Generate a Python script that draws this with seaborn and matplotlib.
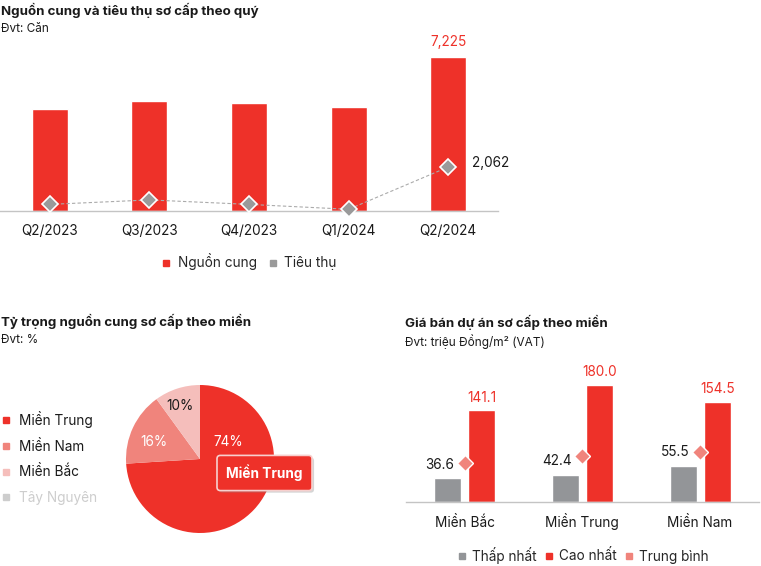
import matplotlib
matplotlib.use("Agg")
import matplotlib.pyplot as plt
import matplotlib.patheffects as pe
from matplotlib.lines import Line2D
import seaborn as sns
import pandas as pd

# ---------------- data ----------------
quarters = ["Q2/2023", "Q3/2023", "Q4/2023", "Q1/2024", "Q2/2024"]
nguon_cung = [4790, 5160, 5070, 4880, 7225]
tieu_thu = [310, 520, 310, 80, 2062]

regions_pie = ["Miền Trung", "Miền Nam", "Miền Bắc", "Tây Nguyên"]
shares = [74, 16, 10, 0]

regions_price = ["Miền Bắc", "Miền Trung", "Miền Nam"]
thap_nhat = [36.6, 42.4, 55.5]
cao_nhat = [141.1, 180.0, 154.5]
trung_binh = [60.0, 71.5, 77.0]

RED = "#EE3129"
GRAY_BAR = "#939598"
GRAY_DIAMOND = "#9A9A9A"
SALMON = "#F0847C"
PINK = "#F5BEBB"
LIGHT = "#CDCDCD"
AXIS = "#C4C4C4"
TXT = "#1A1A1A"
FS = 9.8

sns.set_theme(style="white")
plt.rcParams["font.family"] = ["Inter", "DejaVu Sans"]

W, H = 761, 566
fig = plt.figure(figsize=(W / 100, H / 100), dpi=100)
fig.patch.set_facecolor("white")


def add_ax(x0, y0, x1, y1):
    return fig.add_axes([x0 / W, 1 - y1 / H, (x1 - x0) / W, (y1 - y0) / H])


def ftext(x, y, s, **kw):
    return fig.text(x / W, 1 - y / H, s, **kw)


def style_cat_axis(ax, n):
    for sp in ["top", "right", "left"]:
        ax.spines[sp].set_visible(False)
    ax.spines["bottom"].set_color(AXIS)
    ax.spines["bottom"].set_linewidth(1.0)
    ax.set_xlim(-0.5, n - 0.5)
    ax.set_xticks(range(n))
    ax.set_xticks([i - 0.5 for i in range(n + 1)], minor=True)
    ax.tick_params(axis="x", which="major", length=0, pad=17.5, labelsize=FS, labelcolor=TXT)
    ax.tick_params(axis="x", which="minor", length=4, width=1, color=AXIS, direction="out")
    for lab in ax.get_xticklabels():
        lab.set_va("baseline")
    ax.set_yticks([])
    ax.set_xlabel("")
    ax.set_ylabel("")
    ax.patch.set_alpha(0)


# ---------------- top chart ----------------
ftext(1, 10, "Nguồn cung và tiêu thụ sơ cấp theo quý", fontsize=9.6, fontweight="bold",
      color=TXT, va="center")
ftext(1, 29, "Đvt: Căn", fontsize=8.5, color=TXT, va="center")

px_per_unit = 154 / 7225
ymax1 = 8000
ax1 = add_ax(0, 211 - ymax1 * px_per_unit, 498, 211)
df1 = pd.DataFrame({"q": quarters, "v": nguon_cung})
sns.barplot(data=df1, x="q", y="v", color=RED, width=0.36, saturation=1, ax=ax1)
ax1.plot(range(len(quarters)), tieu_thu, ls=(0, (3, 2)), lw=0.8, color="#ABABAB",
         marker="D", markersize=8.5, markerfacecolor=GRAY_DIAMOND, markeredgecolor="white",
         markeredgewidth=1.2, zorder=5, clip_on=False)
ax1.set_ylim(0, ymax1)
style_cat_axis(ax1, len(quarters))
ax1.annotate(f"{nguon_cung[-1]:,}", xy=(len(quarters) - 1, nguon_cung[-1]), xytext=(0, 11),
             textcoords="offset points", ha="center", va="center", fontsize=FS, color=RED)
ax1.annotate(f"{tieu_thu[-1]:,}", xy=(len(quarters) - 1, tieu_thu[-1]), xytext=(17, 3),
             textcoords="offset points", ha="left", va="center", fontsize=FS, color=TXT)

h1 = [Line2D([], [], marker="s", ls="", color=RED, markersize=5),
      Line2D([], [], marker="s", ls="", color=GRAY_DIAMOND, markersize=5)]
fig.legend(h1, ["Nguồn cung", "Tiêu thụ"], loc="center", bbox_to_anchor=(249 / W, 1 - 262 / H),
           ncol=2, frameon=False, fontsize=FS, handlelength=0.7, handletextpad=0.5,
           columnspacing=0.8, borderpad=0, borderaxespad=0)

# ---------------- pie chart ----------------
ftext(1, 321, "Tỷ trọng nguồn cung sơ cấp theo miền", fontsize=9.6, fontweight="bold",
      color=TXT, va="center")
ftext(1, 340, "Đvt: %", fontsize=8.5, color=TXT, va="center")

pie_colors = [RED, SALMON, PINK, LIGHT]
ax2 = add_ax(126, 385, 274, 533)
vals = [s for s in shares if s > 0]
cols = [c for s, c in zip(shares, pie_colors) if s > 0]
ax2.pie(vals, colors=cols, startangle=90, counterclock=False, radius=1,
        wedgeprops=dict(linewidth=0))
ax2.set_xlim(-1, 1)
ax2.set_ylim(-1, 1)
ax2.set_aspect("equal")
ax2.axis("off")
label_pos = [(0.38, 0.23), (-0.62, 0.23), (-0.27, 0.72)]
label_col = ["white", "white", TXT]
for s, (lx, ly), lc in zip(vals, label_pos, label_col):
    ax2.text(lx, ly, f"{s}%", ha="center", va="center", fontsize=FS, color=lc)

h2 = [Line2D([], [], marker="s", ls="", color=c, markersize=5) for c in pie_colors]
leg2 = fig.legend(h2, regions_pie, loc="upper left", bbox_to_anchor=(0.002, 1 - 411 / H),
                  frameon=False, fontsize=FS, handlelength=0.7, handletextpad=0.6,
                  labelspacing=0.86, borderpad=0, borderaxespad=0)
for t, s in zip(leg2.get_texts(), shares):
    t.set_color(TXT if s > 0 else LIGHT)

# tooltip
tip = ftext(264.5, 473, regions_pie[0], fontsize=FS, fontweight="bold", color="white",
            ha="center", va="center",
            bbox=dict(boxstyle="round,pad=0.68,rounding_size=0.25", fc=RED, ec="#F7D0CE", lw=1.2))
tip.get_bbox_patch().set_path_effects([
    pe.SimplePatchShadow(offset=(1.5, -1.5), shadow_rgbFace="#888888", alpha=0.35),
    pe.Normal()])

# ---------------- price chart ----------------
ftext(405, 322, "Giá bán dự án sơ cấp theo miền", fontsize=9.6, fontweight="bold",
      color=TXT, va="center")
ftext(405, 342, "Đvt: triệu Đồng/m² (VAT)", fontsize=8.5, color=TXT, va="center")

px_per_unit3 = 117.3 / 180
ymax3 = 200
ax3 = add_ax(405.7, 502.3 - ymax3 * px_per_unit3, 759, 502.3)
df3 = pd.DataFrame({
    "region": regions_price * 2,
    "type": ["Thấp nhất"] * 3 + ["Cao nhất"] * 3,
    "value": thap_nhat + cao_nhat,
})
sns.barplot(data=df3, x="region", y="value", hue="type", palette=[GRAY_BAR, RED],
            width=0.58, gap=0.21, saturation=1, ax=ax3, legend=False)
ax3.plot(range(len(regions_price)), trung_binh, ls="", marker="D", markersize=8,
         markerfacecolor=SALMON, markeredgecolor="white", markeredgewidth=1.0, zorder=5)
ax3.set_ylim(0, ymax3)
style_cat_axis(ax3, len(regions_price))

for p in ax3.containers[0]:
    ax3.annotate(f"{p.get_height():.1f}", xy=(p.get_x() + p.get_width() / 2, p.get_height()),
                 xytext=(-6, 10), textcoords="offset points", ha="center", va="center",
                 fontsize=FS, color=TXT)
for p in ax3.containers[1]:
    ax3.annotate(f"{p.get_height():.1f}", xy=(p.get_x() + p.get_width() / 2, p.get_height()),
                 xytext=(0, 9), textcoords="offset points", ha="center", va="center",
                 fontsize=FS, color=RED)

h3 = [Line2D([], [], marker="s", ls="", color=GRAY_BAR, markersize=5),
      Line2D([], [], marker="s", ls="", color=RED, markersize=5),
      Line2D([], [], marker="s", ls="", color=SALMON, markersize=5)]
fig.legend(h3, ["Thấp nhất", "Cao nhất", "Trung bình"], loc="center",
           bbox_to_anchor=(583 / W, 1 - 555 / H), ncol=3, frameon=False, fontsize=FS,
           handlelength=0.7, handletextpad=0.4, columnspacing=0.55, borderpad=0,
           borderaxespad=0)

fig.savefig("out.png", dpi=100, facecolor="white")
